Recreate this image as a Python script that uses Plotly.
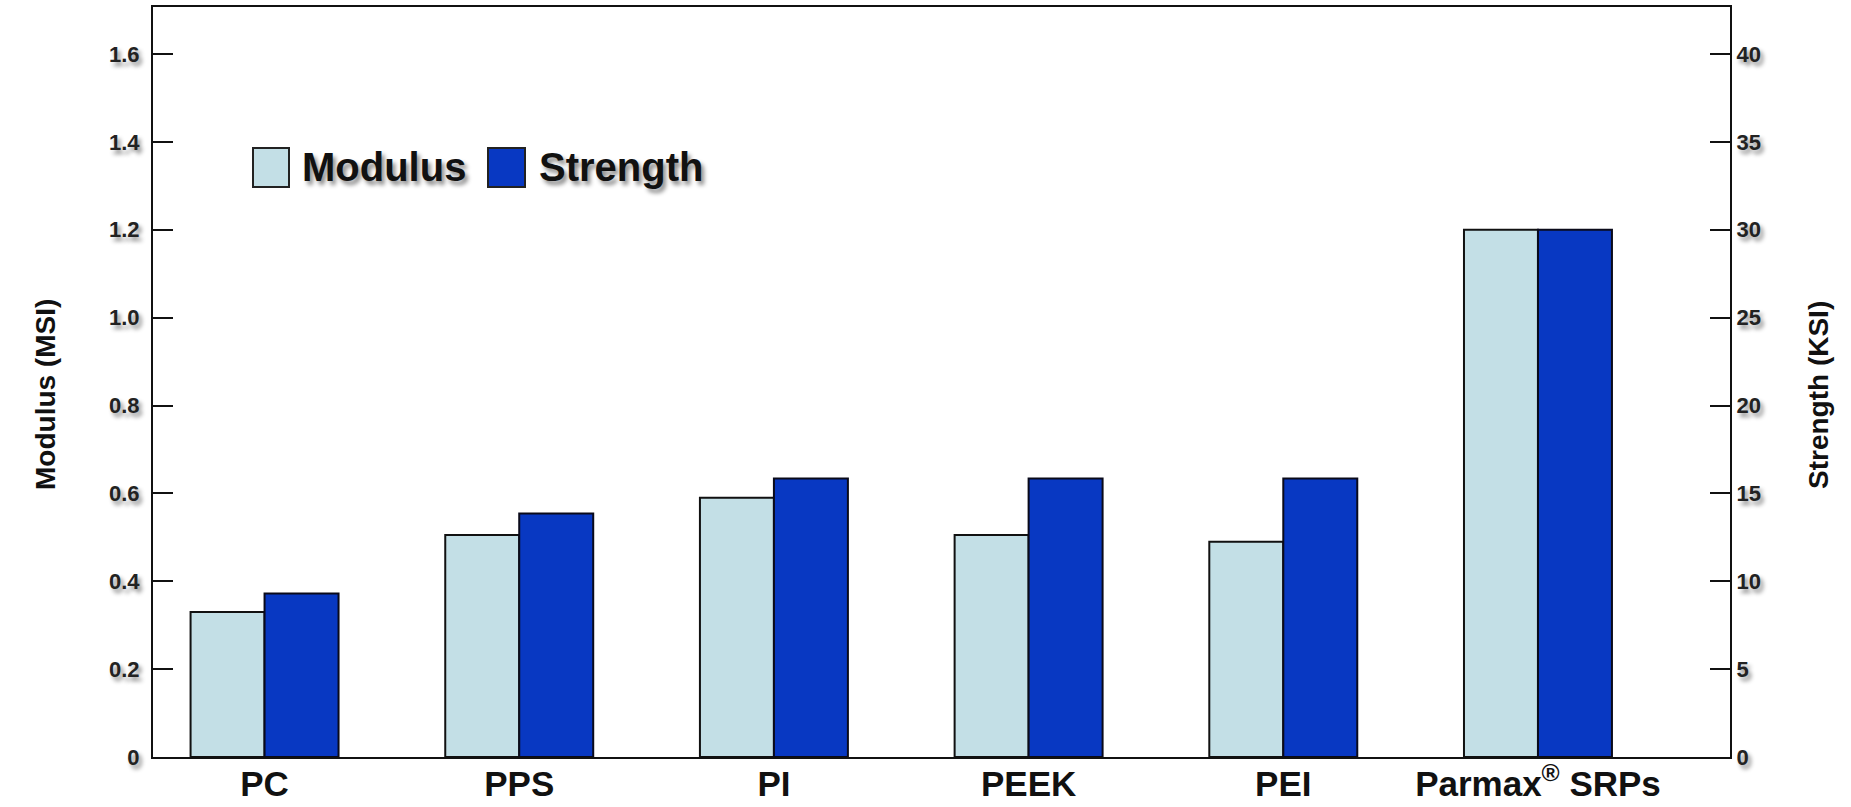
import plotly.graph_objects as go

categories = ["PC", "PPS", "PI", "PEEK", "PEI", "Parmax<sup>®</sup> SRPs"]
modulus_msi = [0.33, 0.505, 0.59, 0.505, 0.49, 1.2]
strength_ksi = [9.3, 13.85, 15.85, 15.85, 15.85, 30.0]

mod_ticks = [0, 0.2, 0.4, 0.6, 0.8, 1.0, 1.2, 1.4, 1.6]
mod_ticktext = ["0", "0.2", "0.4", "0.6", "0.8", "1.0", "1.2", "1.4", "1.6"]
str_ticks = [0, 5, 10, 15, 20, 25, 30, 35, 40]

series_names = ["Modulus", "Strength"]
series_colors = ["#C3DFE6", "#0838C2"]

FONT = "Liberation Sans, Arial, sans-serif"
SHADOW = "3px 4px 4px rgba(0,0,0,0.45)"

W, H = 1851, 807
ML, MR, MT, MB = 153, 121, 7, 50
PW, PH = W - ML - MR, H - MT - MB


def px_x(x):
    return (x - ML) / PW


def px_y(y):
    return (H - MB - y) / PH


fig = go.Figure()
fig.add_trace(go.Bar(
    x=categories, y=modulus_msi, name=series_names[0], yaxis="y",
    offsetgroup="mod", showlegend=False,
    marker=dict(color=series_colors[0], line=dict(color="#111111", width=2)),
))
fig.add_trace(go.Bar(
    x=categories, y=strength_ksi, name=series_names[1], yaxis="y2",
    offsetgroup="str", showlegend=False,
    marker=dict(color=series_colors[1], line=dict(color="#0A0A1A", width=2)),
))

# legend drawn as large swatches + text (as in the original graphic)
legend_items = [
    (253, 289, 300, series_names[0], series_colors[0]),
    (488, 525, 537, series_names[1], series_colors[1]),
]
shapes = []
annotations = []
for x0, x1, xt, name, col in legend_items:
    shapes.append(dict(type="rect", xref="paper", yref="paper",
                       x0=px_x(x0), x1=px_x(x1), y0=px_y(187), y1=px_y(148),
                       fillcolor=col, line=dict(color="#222222", width=2)))
    annotations.append(dict(xref="paper", yref="paper", x=px_x(xt), y=px_y(167),
                            xanchor="left", yanchor="middle", showarrow=False,
                            text=f"<b>{name}</b>",
                            font=dict(family=FONT, size=40, color="#111111", shadow=SHADOW)))

annotations.append(dict(xref="paper", yref="paper", x=px_x(45), y=px_y(395),
                        xanchor="center", yanchor="middle", showarrow=False, textangle=-90,
                        text="<b>Modulus (MSI)</b>",
                        font=dict(family=FONT, size=28, color="#111111")))
annotations.append(dict(xref="paper", yref="paper", x=px_x(1818), y=px_y(395),
                        xanchor="center", yanchor="middle", showarrow=False, textangle=-90,
                        text="<b>Strength (KSI)</b>",
                        font=dict(family=FONT, size=28, color="#111111")))

fig.update_layout(
    width=W, height=H,
    margin=dict(l=ML, r=MR, t=MT, b=MB, autoexpand=False),
    paper_bgcolor="white", plot_bgcolor="white",
    barmode="group", bargap=0.419, bargroupgap=0,
    font=dict(family=FONT, color="#111111"),
    showlegend=False,
    shapes=shapes,
    annotations=annotations,
    xaxis=dict(
        type="category", range=[-0.438, 5.754], automargin=False,
        showline=True, linecolor="#111111", linewidth=2, mirror=True,
        ticks="", showgrid=False, ticklabelstandoff=-5,
        tickfont=dict(family=FONT, size=35, color="#111111", weight="bold"),
    ),
    yaxis=dict(
        range=[0, 1.707], tickvals=mod_ticks, ticktext=mod_ticktext, automargin=False,
        ticks="inside", ticklen=20, tickwidth=2, tickcolor="#111111",
        showline=True, linecolor="#111111", linewidth=2,
        showgrid=False, zeroline=False, ticklabelstandoff=7,
        tickfont=dict(family=FONT, size=22, color="#222222", weight="bold", shadow=SHADOW),
    ),
    yaxis2=dict(
        range=[0, 42.675], tickvals=str_ticks, automargin=False,
        overlaying="y", side="right",
        ticks="inside", ticklen=20, tickwidth=2, tickcolor="#111111",
        showline=True, linecolor="#111111", linewidth=2,
        showgrid=False, zeroline=False,
        tickfont=dict(family=FONT, size=22, color="#222222", weight="bold", shadow=SHADOW),
    ),
)

fig.write_html("out.html", config={"displayModeBar": False},
               post_script="document.body.style.margin='0';document.body.style.padding='0';")
